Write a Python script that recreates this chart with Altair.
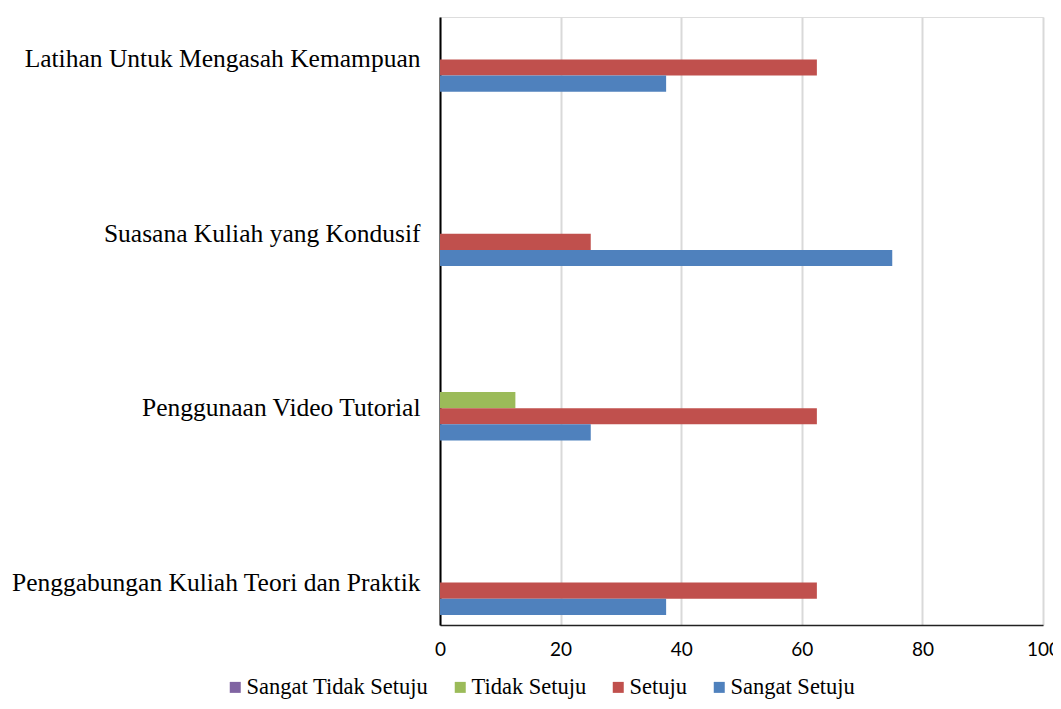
import altair as alt
import pandas as pd

categories = [
    "Latihan Untuk Mengasah Kemampuan",
    "Suasana Kuliah yang Kondusif",
    "Penggunaan Video Tutorial",
    "Penggabungan Kuliah Teori dan Praktik",
]
series = ["Sangat Tidak Setuju", "Tidak Setuju", "Setuju", "Sangat Setuju"]
colors = ["#8064A2", "#9BBB59", "#C0504D", "#4F81BD"]

sangat_setuju = [37.5, 75, 25, 37.5]
setuju = [62.5, 25, 62.5, 62.5]
tidak_setuju = [0, 0, 12.5, 0]
sangat_tidak_setuju = [0, 0, 0, 0]

values = {
    "Sangat Tidak Setuju": sangat_tidak_setuju,
    "Tidak Setuju": tidak_setuju,
    "Setuju": setuju,
    "Sangat Setuju": sangat_setuju,
}

rows = []
for s in series:
    for c, v in zip(categories, values[s]):
        rows.append({"kategori": c, "seri": s, "nilai": v})
df = pd.DataFrame(rows)

FONT = "Liberation Serif"

chart = (
    alt.Chart(df)
    .mark_bar()
    .encode(
        y=alt.Y(
            "kategori:N",
            sort=categories,
            scale=alt.Scale(paddingInner=0.63, paddingOuter=0.058),
            axis=alt.Axis(
                title=None,
                ticks=False,
                domainColor="#000000",
                domainWidth=2,
                labelFont=FONT,
                labelFontSize=25.5,
                labelColor="#000000",
                labelPadding=20,
                labelLimit=500,
            ),
        ),
        yOffset=alt.YOffset(
            "seri:N",
            sort=series,
            scale=alt.Scale(domain=series, paddingInner=0, paddingOuter=0),
        ),
        x=alt.X(
            "nilai:Q",
            scale=alt.Scale(domain=[0, 100], nice=False),
            axis=alt.Axis(
                title=None,
                values=[0, 20, 40, 60, 80, 100],
                ticks=False,
                grid=True,
                gridColor="#d9d9d9",
                gridWidth=2,
                domainColor="#222222",
                domainWidth=1.5,
                labelFont="Lato",
                labelFontSize=19,
                labelColor="#000000",
                labelPadding=15,
                labelFlush=False,
            ),
        ),
        color=alt.Color(
            "seri:N",
            sort=series,
            scale=alt.Scale(domain=series, range=colors),
            legend=alt.Legend(
                title=None,
                orient="none",
                direction="horizontal",
                legendX=-216,
                legendY=659,
                symbolType="square",
                symbolSize=121,
                symbolStrokeWidth=0,
                labelFont=FONT,
                labelFontSize=22.5,
                labelColor="#000000",
                columnPadding=20,
                labelOffset=0,
                labelLimit=400,
            ),
        ),
    )
    .properties(
        width=603,
        height=608,
        autosize=alt.AutoSizeParams(type="none"),
        padding={"left": 432, "top": 9, "right": 10, "bottom": 76},
    )
    .configure_view(stroke=None)
    .configure(background="#ffffff")
)

chart.save("out.html", embed_options={"renderer": "svg", "actions": False})
